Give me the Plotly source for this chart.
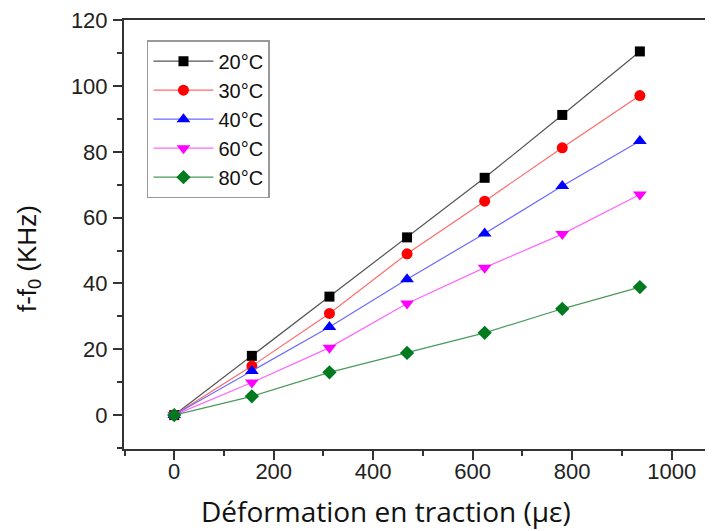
import plotly.graph_objects as go

# strain (µε) and frequency shift (kHz)
strain = [0, 156, 312, 468, 624, 780, 936]
temps = ["20°C", "30°C", "40°C", "60°C", "80°C"]
shift_20 = [0, 18.0, 36.0, 54.0, 72.1, 91.2, 110.5]
shift_30 = [0, 14.9, 30.9, 49.0, 65.0, 81.2, 97.1]
shift_40 = [0, 13.4, 26.8, 41.3, 55.2, 69.6, 83.3]
shift_60 = [0, 9.9, 20.5, 33.9, 44.8, 55.0, 67.0]
shift_80 = [0, 5.7, 13.0, 18.9, 25.0, 32.3, 38.9]

series = [shift_20, shift_30, shift_40, shift_60, shift_80]
marker_colors = ["#000000", "#ff0000", "#0000ff", "#ff00ff", "#007a1f"]
line_colors = ["#555555", "#ff6a6a", "#6a6aff", "#ff66ff", "#4a9a5a"]
symbols = ["square", "circle", "triangle-up", "triangle-down", "diamond"]
sizes = [10, 11, 12, 12, 11]

fig = go.Figure()
for name, ys, mc, lc, sym, sz in zip(temps, series, marker_colors, line_colors, symbols, sizes):
    fig.add_trace(
        go.Scatter(
            x=strain,
            y=ys,
            name=name,
            mode="lines+markers",
            line=dict(color=lc, width=1.2),
            marker=dict(color=mc, symbol=sym, size=sz, line=dict(width=0)),
        )
    )

axis_font = dict(family="Liberation Sans, Arial", size=22, color="#222222")
tick_style = dict(ticks="outside", ticklen=9, tickwidth=1.5, tickcolor="#333333")
minor_style = dict(ticks="outside", ticklen=5, tickwidth=1.5, tickcolor="#333333")

# the page body adds an 8px margin, so the figure is sized 8px smaller
fig.update_layout(
    width=705,
    height=523,
    margin=dict(l=116, r=0, t=12, b=82),
    plot_bgcolor="white",
    paper_bgcolor="white",
    showlegend=True,
    legend=dict(
        x=0.039,
        y=0.953,
        xanchor="left",
        yanchor="top",
        bordercolor="#999999",
        borderwidth=1.5,
        bgcolor="white",
        font=dict(family="Liberation Sans, Arial", size=20, color="#111111"),
        itemwidth=60,
        tracegroupgap=0,
    ),
    xaxis=dict(
        range=[-101, 1083],
        tickvals=[0, 200, 400, 600, 800, 1000],
        **tick_style,
        ticklabelstandoff=-7,
        ticklabeloverflow="allow",
        minor=dict(dtick=100, tick0=0, **minor_style),
        showgrid=False,
        zeroline=False,
        showline=True,
        linecolor="#333333",
        linewidth=2,
        mirror=True,
        automargin=False,
        tickfont=axis_font,
    ),
    yaxis=dict(
        range=[-10.3, 120.05],
        tickvals=[0, 20, 40, 60, 80, 100, 120],
        **tick_style,
        ticklabelstandoff=1,
        ticklabeloverflow="allow",
        minor=dict(dtick=10, tick0=0, **minor_style),
        showgrid=False,
        zeroline=False,
        showline=True,
        linecolor="#333333",
        linewidth=2,
        automargin=False,
        tickfont=axis_font,
    ),
)

# axis titles as annotations (the plot frame runs past the right edge)
fig.add_annotation(
    text="Déformation en traction (µε)",
    xref="paper", yref="paper", x=0.445, y=-0.145,
    xanchor="center", yanchor="middle", showarrow=False,
    font=dict(family="Open Sans", size=28, color="#111111"),
)
fig.add_annotation(
    text="f-f<sub>0</sub> (KHz)",
    xref="paper", yref="paper", x=-0.163, y=0.445,
    xanchor="center", yanchor="middle", showarrow=False, textangle=-90,
    font=dict(family="Liberation Sans, Arial", size=26, color="#111111"),
)

fig.write_html("out.html")
